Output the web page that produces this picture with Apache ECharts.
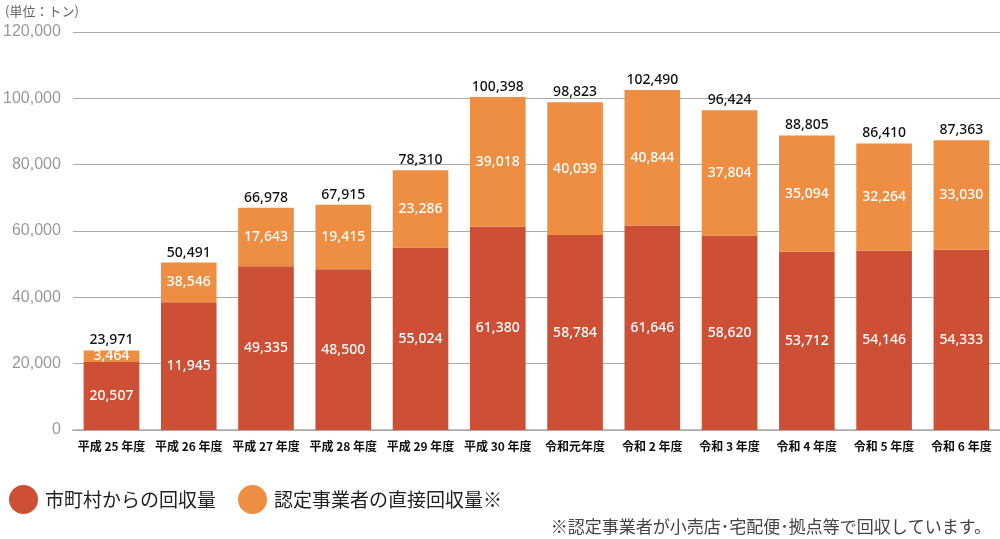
<!DOCTYPE html>
<html>
<head>
	<meta charset="UTF-8">
	<title>回収量</title>
	<style>
		html, body { margin: 0; padding: 0; background: #fff; }
		#chart { width: 1000px; height: 539px; }
	</style>
</head>
<body>
<div id="chart"></div>
<script type="text/javascript" src="https://cdn.jsdelivr.net/npm/echarts@6/dist/echarts.min.js"></script>
<script type="text/javascript">
var years = ['平成 25 年度', '平成 26 年度', '平成 27 年度', '平成 28 年度', '平成 29 年度', '平成 30 年度',
	'令和元年度', '令和 2 年度', '令和 3 年度', '令和 4 年度', '令和 5 年度', '令和 6 年度'];
// bar heights as drawn in the figure
var cityHeight = [20507, 38546, 49335, 48500, 55024, 61380, 58784, 61646, 58620, 53712, 54146, 54333];
var bizHeight = [3464, 11945, 17643, 19415, 23286, 39018, 40039, 40844, 37804, 35094, 32264, 33030];
// numbers printed on the segments
var cityLabel = [20507, 11945, 49335, 48500, 55024, 61380, 58784, 61646, 58620, 53712, 54146, 54333];
var bizLabel = [3464, 38546, 17643, 19415, 23286, 39018, 40039, 40844, 37804, 35094, 32264, 33030];
var totals = [23971, 50491, 66978, 67915, 78310, 100398, 98823, 102490, 96424, 88805, 86410, 87363];
var zeros = [0, 0, 0, 0, 0, 0, 0, 0, 0, 0, 0, 0];

var font = "'Noto Sans CJK JP', sans-serif";
var numFont = "'Noto Sans', sans-serif";
function fmt(n) { return n.toLocaleString('en-US'); }

var chart = echarts.init(document.getElementById('chart'));
var option = {
	animation: false,
	textStyle: { fontFamily: font },
	title: [{
		text: '(単位：トン)',
		left: 0, top: 0,
		textStyle: { fontSize: 13, fontWeight: 'normal', color: '#666', fontFamily: font }
	}, {
		text: '※認定事業者が小売店･宅配便･拠点等で回収しています。',
		right: 4, top: 513,
		textStyle: { fontSize: 17, fontWeight: 'normal', color: '#444', fontFamily: font }
	}],
	legend: {
		left: 4, top: 480,
		icon: 'circle',
		itemWidth: 29, itemHeight: 29,
		itemGap: 22,
		data: ['市町村からの回収量', '認定事業者の直接回収量※'],
		textStyle: { fontSize: 19, color: '#222', fontFamily: font, padding: [0, 0, 0, 2] }
	},
	grid: { left: 72, right: 0, top: 32, bottom: 109 },
	xAxis: {
		type: 'category',
		data: years,
		axisTick: { show: false },
		axisLine: { lineStyle: { color: '#aaa', width: 1.5 } },
		axisLabel: { fontSize: 12, fontWeight: 'bold', color: '#111', margin: 10, interval: 0 }
	},
	yAxis: {
		type: 'value',
		min: 0, max: 120000, interval: 20000,
		axisLabel: {
			fontSize: 16, color: '#999', margin: 12,
			fontFamily: "'Liberation Sans', sans-serif",
			formatter: function (v) { return fmt(v); }
		},
		splitLine: { lineStyle: { color: '#aaa', width: 1.2 } }
	},
	series: [{
		name: '市町村からの回収量',
		type: 'bar',
		stack: 'all',
		barCategoryGap: '28%',
		data: cityHeight,
		itemStyle: { color: '#cd4f36' },
		label: {
			show: true, position: 'inside',
			color: '#fff', fontSize: 14, fontWeight: 500, fontFamily: numFont,
			formatter: function (p) { return fmt(cityLabel[p.dataIndex]); }
		}
	}, {
		name: '認定事業者の直接回収量※',
		type: 'bar',
		stack: 'all',
		data: bizHeight,
		itemStyle: { color: '#ee8e42' },
		label: {
			show: true, position: 'inside',
			color: '#fff', fontSize: 14, fontWeight: 500, fontFamily: numFont,
			formatter: function (p) { return fmt(bizLabel[p.dataIndex]); }
		}
	}, {
		name: 'total',
		type: 'bar',
		stack: 'all',
		data: zeros,
		itemStyle: { color: 'transparent' },
		label: {
			show: true, position: 'top', distance: 3,
			color: '#111', fontSize: 14, fontWeight: 500, fontFamily: numFont,
			formatter: function (p) { return fmt(totals[p.dataIndex]); }
		}
	}]
};
chart.setOption(option);
</script>
</body>
</html>
